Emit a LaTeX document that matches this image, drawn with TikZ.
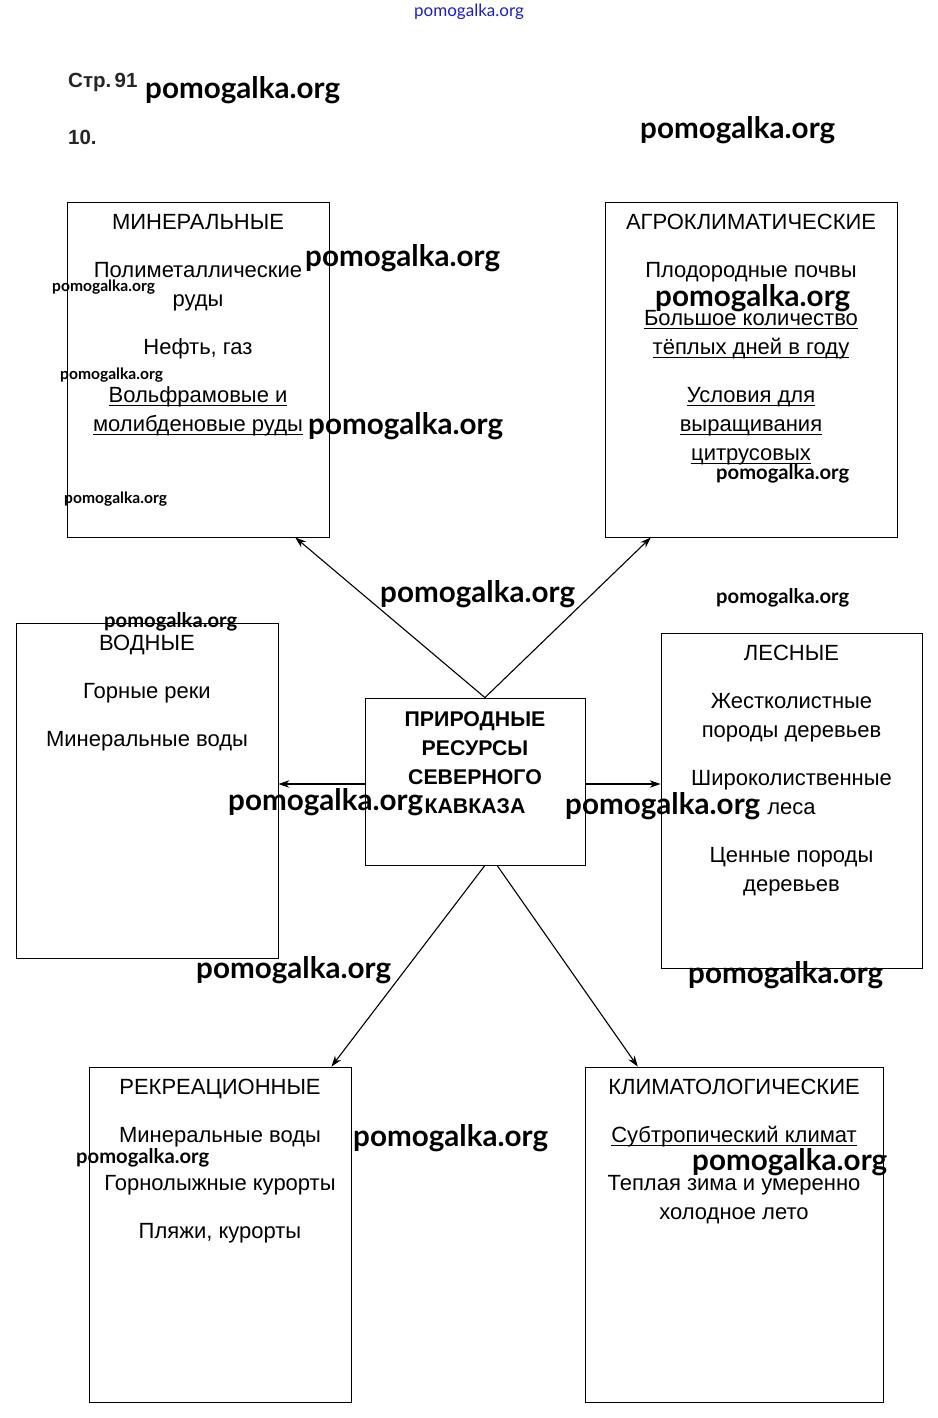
\documentclass[tikz,border=0pt]{standalone}
\usepackage{fontspec}
\setmainfont{Liberation Sans}
\newfontfamily\wmfont{Lato}
\usetikzlibrary{calc,arrows.meta}
\definecolor{wmblue}{RGB}{30,30,200}
\newcommand\myul[1]{\setbox0\hbox{#1}\rlap{\rule[-3.5pt]{\wd0}{1.1pt}}\box0}
\begin{document}
\begin{tikzpicture}[x=1pt,y=-1pt,
  box/.style={draw, line width=0.8pt, inner sep=0pt},
  txt/.style={align=center, inner sep=0pt, anchor=north, font=\fontsize{22}{29}\selectfont},
  ctxt/.style={align=center, inner sep=0pt, anchor=north, font=\bfseries\fontsize{21.3}{29}\selectfont},
  arr/.style={line width=1.1pt, -{Stealth[length=11pt,width=7.5pt]}},
  wmL/.style={font=\wmfont\bfseries\fontsize{29.6}{29.6}\selectfont, inner sep=0pt, anchor=west},
  wmM/.style={font=\wmfont\bfseries\fontsize{20.2}{20.2}\selectfont, inner sep=0pt, anchor=west},
  wmS/.style={font=\wmfont\bfseries\fontsize{15.6}{15.6}\selectfont, inner sep=0pt, anchor=west},
  head/.style={font=\bfseries\fontsize{20.5}{20.5}\selectfont, inner sep=0pt, anchor=west, text=black!85}]
\useasboundingbox[fill=white] (0,0) rectangle (937,1418);

% header
\node[font=\wmfont\fontsize{17}{17}\selectfont, text=wmblue, inner sep=0pt] (wmtop) at (469,12) {pomogalka.org};
\node[head] (page) at (68,82) {Стр.\,91};
\node[head] (num) at (68,137) {10.};

% boxes
\node[box, minimum width=262pt, minimum height=335pt] (min) at (198,369.5) {};
\node[box, minimum width=292pt, minimum height=335pt] (agro) at (751,369.5) {};
\node[box, minimum width=262pt, minimum height=335pt] (vod) at (147,790.5) {};
\node[box, minimum width=220pt, minimum height=167pt] (c) at (475,781.5) {};
\node[box, minimum width=261pt, minimum height=335pt] (les) at (791.5,800.5) {};
\node[box, minimum width=262pt, minimum height=335pt] (rec) at (220,1234.5) {};
\node[box, minimum width=298pt, minimum height=335pt] (klim) at (734,1234.5) {};

% texts
\node[txt] (minT) at ([yshift=-7.2pt]min.north) {\strut МИНЕРАЛЬНЫЕ\\[19pt]
  Полиметаллические\\руды\\[19pt]
  Нефть, газ\\[19pt]
  \myul{Вольфрамовые и}\\\myul{молибденовые руды}};
\node[txt] (agroT) at ([yshift=-7.2pt]agro.north) {\strut АГРОКЛИМАТИЧЕСКИЕ\\[19pt]
  Плодородные почвы\\[19pt]
  \myul{Большое количество}\\\myul{тёплых дней в году}\\[19pt]
  \myul{Условия для}\\\myul{выращивания}\\\myul{цитрусовых}};
\node[txt] (vodT) at ([yshift=-7.2pt]vod.north) {\strut ВОДНЫЕ\\[19pt]
  Горные реки\\[19pt]
  Минеральные воды};
\node[ctxt] (cT) at ([yshift=-8pt]c.north) {\strut ПРИРОДНЫЕ\\РЕСУРСЫ\\СЕВЕРНОГО\\КАВКАЗА};
\node[txt] (lesT) at ([yshift=-7.2pt]les.north) {\strut ЛЕСНЫЕ\\[19pt]
  Жестколистные\\породы деревьев\\[19pt]
  Широколиственные\\леса\\[19pt]
  Ценные породы\\деревьев};
\node[txt] (recT) at ([yshift=-7.2pt]rec.north) {\strut РЕКРЕАЦИОННЫЕ\\[19pt]
  Минеральные воды\\[19pt]
  Горнолыжные курорты\\[19pt]
  Пляжи, курорты};
\node[txt] (klimT) at ([yshift=-7.2pt]klim.north) {\strut КЛИМАТОЛОГИЧЕСКИЕ\\[19pt]
  \myul{Субтропический климат}\\[19pt]
  Теплая зима и умеренно\\холодное лето};

% connectors
\draw[arr] ($(c.north west)!0.545!(c.north east)$) -- ($(min.south west)!0.87!(min.south east)$);
\draw[arr] ($(c.north west)!0.545!(c.north east)$) -- ($(agro.south west)!0.158!(agro.south east)$);
\coordinate (cl) at ($(c.north west)!0.515!(c.south west)$);
\coordinate (cr) at ($(c.north east)!0.515!(c.south east)$);
\draw[arr] (cl) -- (cl -| vod.east);
\draw[arr] (cr) -- (cr -| les.west);
\draw[arr] ($(c.south west)!0.545!(c.south east)$) -- ($(rec.north west)!0.924!(rec.north east)$);
\draw[arr] ($(c.south west)!0.6!(c.south east)$) -- ($(klim.north west)!0.178!(klim.north east)$);

% watermarks
\node[wmL] (w1) at (145,90) {pomogalka.org};
\node[wmL] (w2) at (640,130) {pomogalka.org};
\node[wmL] (w3) at (305,258) {pomogalka.org};
\node[wmS] (w4) at (52,287) {pomogalka.org};
\node[wmL] (w5) at (655,298) {pomogalka.org};
\node[wmS] (w6) at (60,375) {pomogalka.org};
\node[wmL] (w7) at (308,426) {pomogalka.org};
\node[wmM] (w8) at (716,474) {pomogalka.org};
\node[wmS] (w9) at (64,499) {pomogalka.org};
\node[wmL] (w10) at (380,594) {pomogalka.org};
\node[wmM] (w11) at (716,598) {pomogalka.org};
\node[wmM] (w12) at (104,622) {pomogalka.org};
\node[wmL] (w13) at (228,802) {pomogalka.org};
\node[wmL] (w14) at (565,806) {pomogalka.org};
\node[wmL] (w15) at (196,970) {pomogalka.org};
\node[wmL] (w16) at (688,975) {pomogalka.org};
\node[wmL] (w17) at (353,1138) {pomogalka.org};
\node[wmM] (w18) at (76,1158) {pomogalka.org};
\node[wmL] (w19) at (692,1162) {pomogalka.org};
\end{tikzpicture}
\end{document}
